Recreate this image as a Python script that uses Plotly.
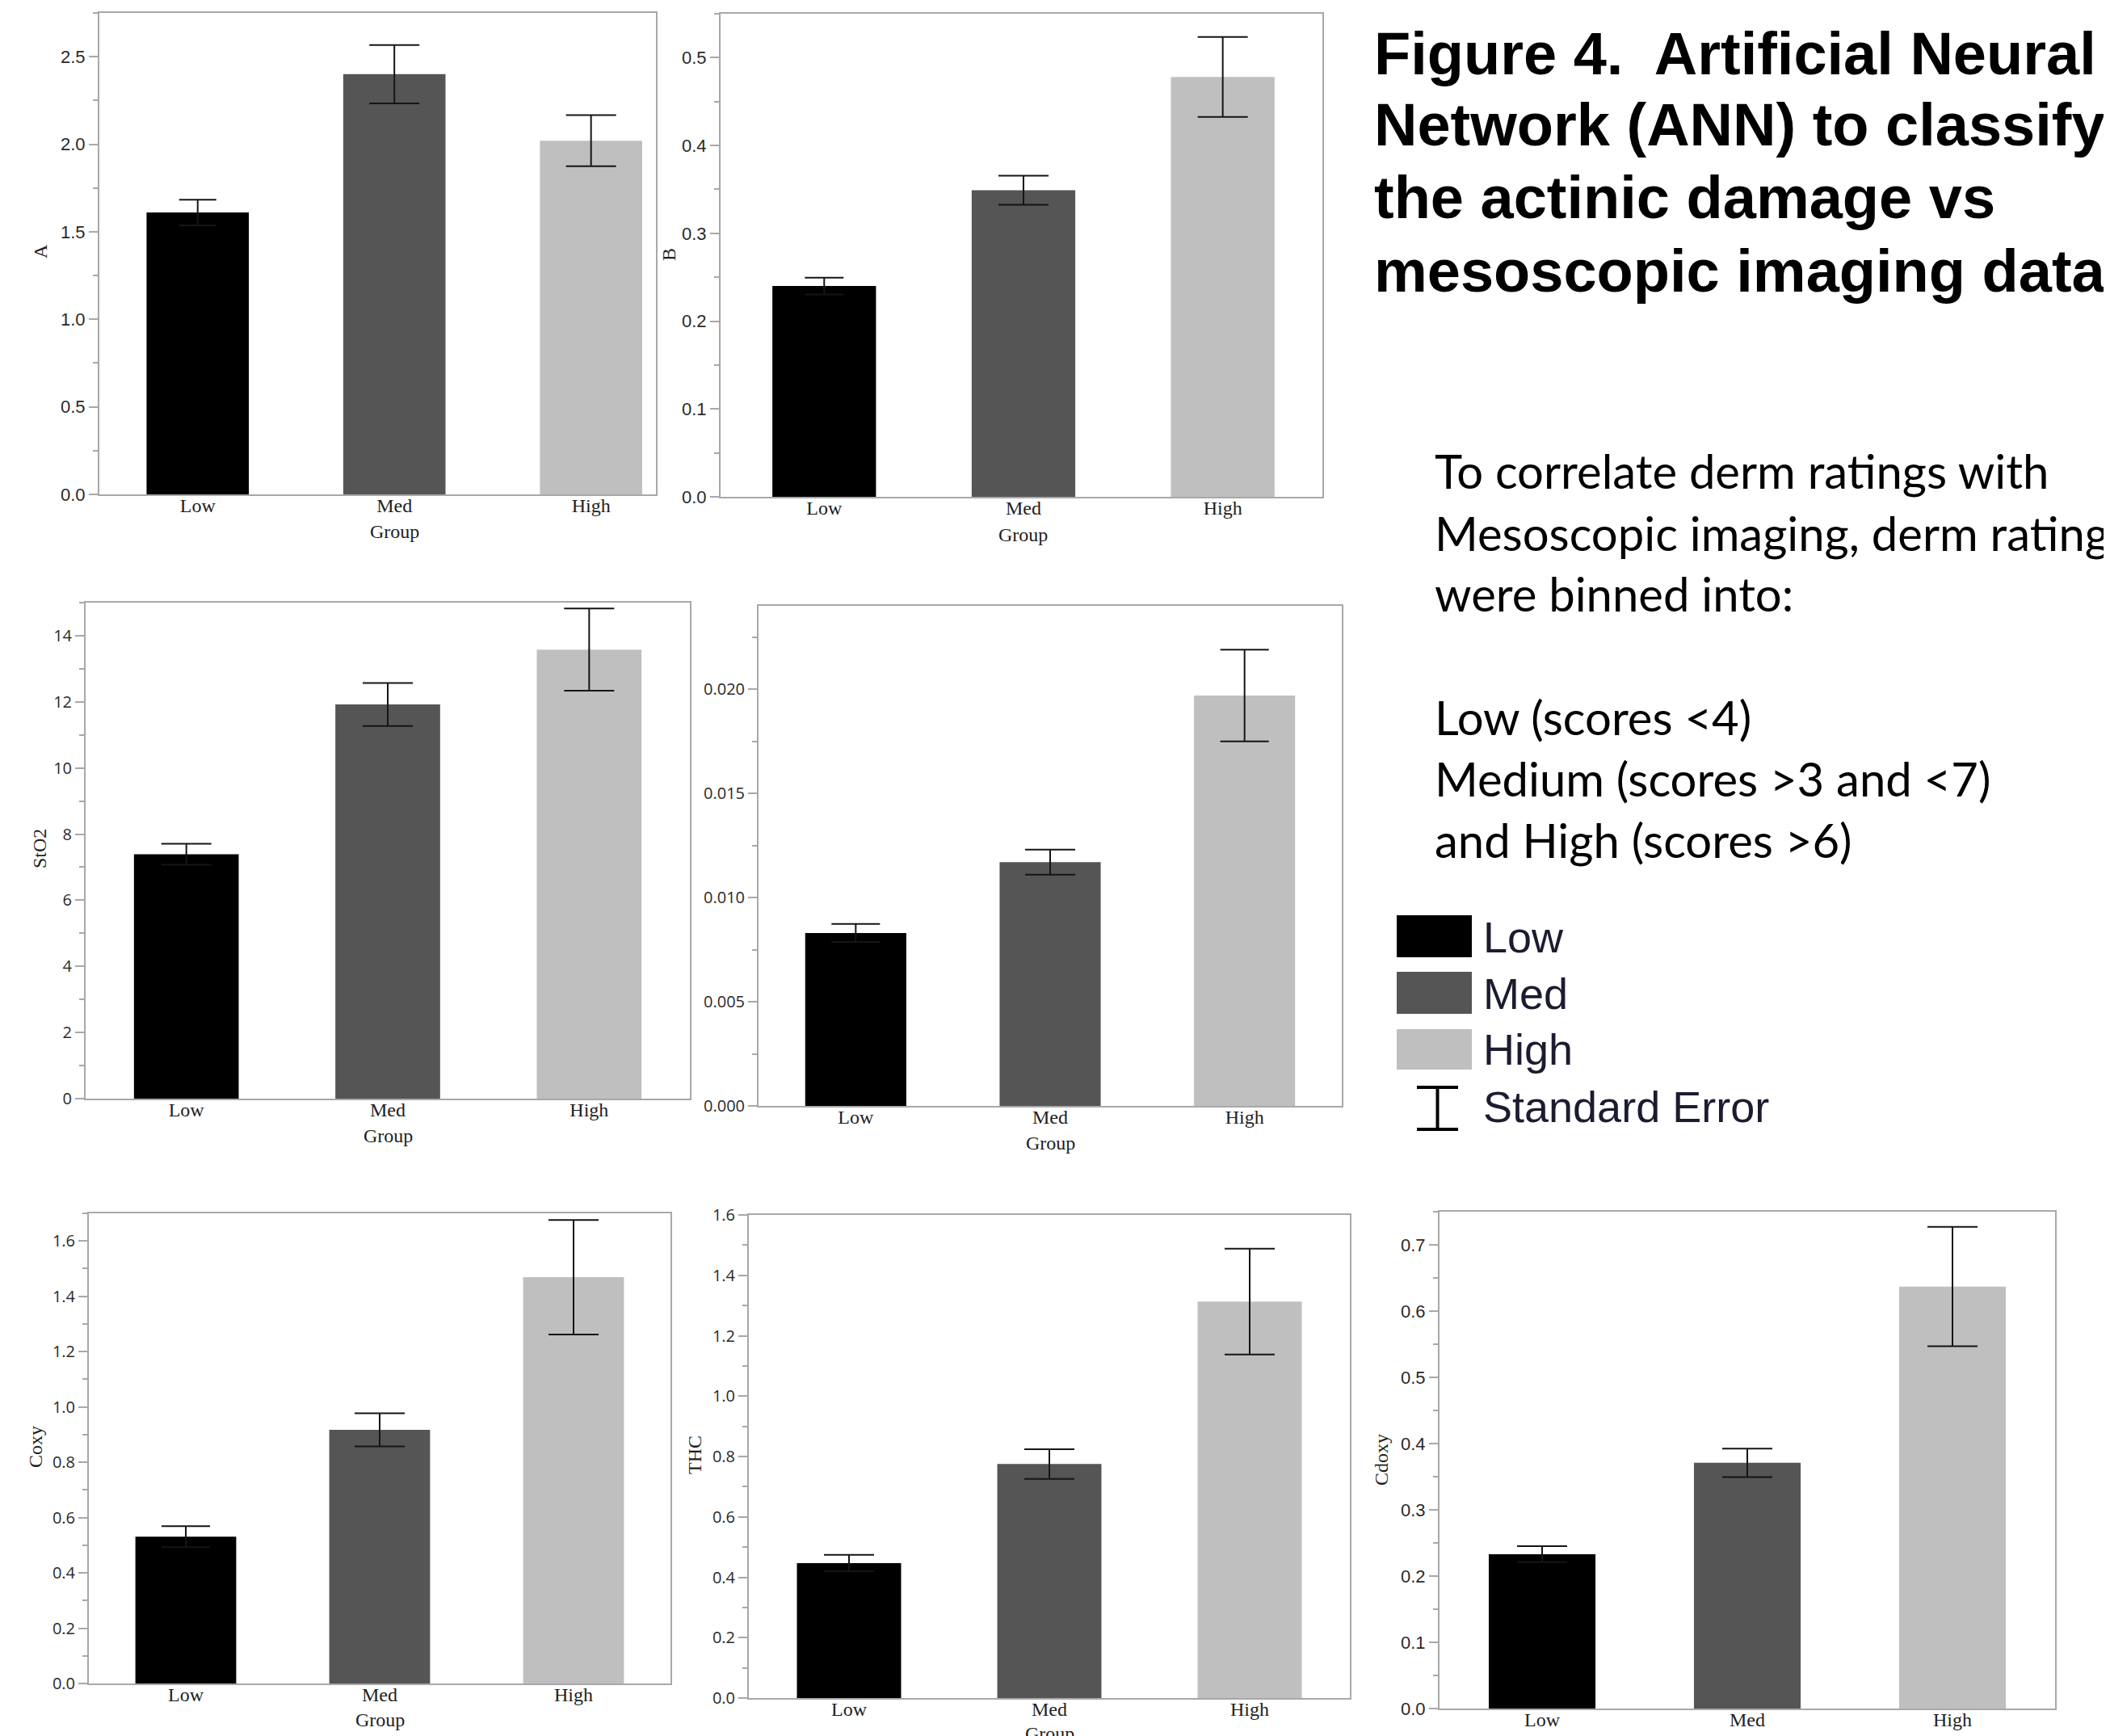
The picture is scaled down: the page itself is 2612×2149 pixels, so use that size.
import plotly.graph_objects as go

# page body adds an 8px margin, so the figure is drawn 8px in from the corner
OFF = 8
W, H = 2612 - OFF, 2149 - OFF


def px(x):
    return (x - OFF) / W


def py(y):
    return 1 - (y - OFF) / H


# ---------------- data ----------------
groups = ["Low", "Med", "High"]

A_mean = [1.61, 2.40, 2.02]
A_se = [0.073, 0.167, 0.146]
B_mean = [0.240, 0.349, 0.478]
B_se = [0.0095, 0.0165, 0.0455]
StO2_mean = [7.39, 11.92, 13.58]
StO2_se = [0.32, 0.65, 1.24]
P4_mean = [0.0083, 0.0117, 0.0197]
P4_se = [0.00043, 0.0006, 0.0022]
Coxy_mean = [0.531, 0.917, 1.469]
Coxy_se = [0.038, 0.060, 0.207]
THC_mean = [0.447, 0.775, 1.313]
THC_se = [0.027, 0.049, 0.175]
Cdoxy_mean = [0.233, 0.371, 0.637]
Cdoxy_se = [0.012, 0.0215, 0.090]

y_titles = ["A", "B", "StO2", "", "Coxy", "THC", "Cdoxy"]
x_title = "Group"

title_lines = [
    "Figure 4.&nbsp; Artificial Neural",
    "Network (ANN) to classify",
    "the actinic damage vs",
    "mesoscopic imaging data",
]
body_lines = [
    "To correlate derm ratings with",
    "Mesoscopic imaging, derm ratings",
    "were binned into:",
    "Low (scores <4)",
    "Medium (scores >3 and <7)",
    "and High (scores >6)",
]
legend_labels = ["Low", "Med", "High", "Standard Error"]

# ---------------- style ----------------
bar_colors = ["#000000", "#555555", "#bfbfbf"]
frame = "#a8a8a8"
narrow_font = "Liberation Sans Narrow, Arial Narrow, Liberation Sans, Arial"
ui_font = "Segoe UI, Open Sans, Noto Sans, sans-serif"
serif = "Liberation Serif, Times New Roman, serif"

panels = [
    dict(mean=A_mean, se=A_se, box=(123, 16, 812, 612), yr=[0, 2.75], dt=0.5, mdt=0.25,
         fmt=".1f", font=narrow_font, fs=22, xr=[-0.5, 2.33], caps=(23, 31, 31), tpos=(50, 311), gy=658),
    dict(mean=B_mean, se=B_se, box=(892, 17, 1637, 615), yr=[0, 0.55], dt=0.1, mdt=0.05,
         fmt=".1f", font=narrow_font, fs=22, xr=[-0.52, 2.5], caps=(24, 31, 31), tpos=(828, 315), gy=662),
    dict(mean=StO2_mean, se=StO2_se, box=(106, 746, 854, 1360), yr=[0, 15], dt=2, mdt=1,
         fmt="d", font=ui_font, fs=20, xr=[-0.5, 2.5], caps=(31, 31, 31), tpos=(49, 1051), gy=1406),
    dict(mean=P4_mean, se=P4_se, box=(939, 750, 1661, 1369), yr=[0, 0.024], dt=0.005, mdt=0.0025,
         fmt=".3f", font=ui_font, fs=20, xr=[-0.5, 2.5], caps=(30, 31, 30), tpos=None, gy=1415),
    dict(mean=Coxy_mean, se=Coxy_se, box=(110, 1502, 830, 2084), yr=[0, 1.7], dt=0.2, mdt=0.1,
         fmt=".1f", font=ui_font, fs=20, xr=[-0.5, 2.5], caps=(30, 31, 31), tpos=(44, 1791), gy=2129),
    dict(mean=THC_mean, se=THC_se, box=(927, 1504, 1671, 2102), yr=[0, 1.6], dt=0.2, mdt=0.1,
         fmt=".1f", font=ui_font, fs=20, xr=[-0.5, 2.5], caps=(31, 31, 31), tpos=(860, 1801), gy=2146),
    dict(mean=Cdoxy_mean, se=Cdoxy_se, box=(1782, 1500, 2544, 2115), yr=[0, 0.75], dt=0.1, mdt=0.05,
         fmt=".1f", font=narrow_font, fs=22, xr=[-0.5, 2.5], caps=(31, 31, 31), tpos=(1710, 1807), gy=None),
]

fig = go.Figure()
layout = dict(
    width=W, height=H, margin=dict(l=0, r=0, t=0, b=0),
    paper_bgcolor="white", plot_bgcolor="white",
    barmode="overlay", showlegend=False,
)
annotations = []
shapes = []

for i, p in enumerate(panels, start=1):
    sx = "" if i == 1 else str(i)
    x0, y0, x1, y1 = p["box"]
    for j, g in enumerate(groups):
        fig.add_trace(go.Bar(
            x=[g], y=[p["mean"][j]], width=0.52,
            marker=dict(color=bar_colors[j], line=dict(width=0)),
            error_y=dict(type="data", array=[p["se"][j]], visible=True,
                         color="#151515", thickness=2, width=p["caps"][j]),
            xaxis="x" + sx, yaxis="y" + sx, showlegend=False,
        ))
    layout["xaxis" + sx] = dict(
        domain=[px(x0), px(x1)], anchor="y" + sx, type="category",
        categoryorder="array", categoryarray=groups, range=p["xr"],
        showline=True, mirror=True, linecolor=frame, linewidth=2,
        ticks="", showgrid=False, zeroline=False, automargin=False,
        ticklabelstandoff=-9,
        tickfont=dict(family=serif, size=24, color="#1e1e1e"),
    )
    layout["yaxis" + sx] = dict(
        domain=[py(y1), py(y0)], anchor="x" + sx, range=p["yr"],
        tick0=0, dtick=p["dt"], tickformat=p["fmt"],
        ticks="outside", ticklen=11, tickwidth=1.5, tickcolor=frame,
        minor=dict(dtick=p["mdt"], tick0=0, ticks="outside", ticklen=6,
                   tickwidth=1.5, tickcolor=frame, showgrid=False),
        showline=True, mirror=True, linecolor=frame, linewidth=2,
        showgrid=False, zeroline=False, automargin=False,
        tickfont=dict(family=p["font"], size=p["fs"], color="#2a2a2a"),
    )
    if p["tpos"] is not None and y_titles[i - 1]:
        tx, ty = p["tpos"]
        annotations.append(dict(
            text=y_titles[i - 1], xref="paper", yref="paper", x=px(tx), y=py(ty),
            xanchor="center", yanchor="middle", textangle=-90, showarrow=False,
            font=dict(family=serif, size=24, color="#1e1e1e"),
        ))
    if p["gy"] is not None:
        annotations.append(dict(
            text=x_title, xref="x" + sx, yref="paper", x=1, y=py(p["gy"]),
            xanchor="center", yanchor="middle", showarrow=False,
            font=dict(family=serif, size=24, color="#1e1e1e"),
        ))

# title block
for line, cy in zip(title_lines, [66, 155, 245, 335]):
    annotations.append(dict(
        text="<b>" + line + "</b>", xref="paper", yref="paper", x=px(1699), y=py(cy),
        xanchor="left", yanchor="middle", showarrow=False,
        font=dict(family="Liberation Sans, Arial, sans-serif", size=74, color="#000000"),
    ))

# body text
for line, cy in zip(body_lines, [582, 659, 734, 887, 963, 1039]):
    annotations.append(dict(
        text=line, xref="paper", yref="paper", x=px(1774), y=py(cy),
        xanchor="left", yanchor="middle", showarrow=False,
        font=dict(family="Lato, Open Sans, sans-serif", size=58, color="#000000"),
    ))

# legend
leg_boxes = [(1133, 1185), (1203, 1255), (1274, 1324)]
for (ya, yb), col in zip(leg_boxes, bar_colors):
    shapes.append(dict(type="rect", xref="paper", yref="paper",
                       x0=px(1729), x1=px(1822), y0=py(yb), y1=py(ya),
                       fillcolor=col, line=dict(width=0)))
se_x0, se_x1, se_xc, se_y0, se_y1 = 1754, 1805, 1779.5, 1346, 1398
for seg in [(se_x0, se_y0, se_x1, se_y0), (se_x0, se_y1, se_x1, se_y1), (se_xc, se_y0, se_xc, se_y1)]:
    shapes.append(dict(type="line", xref="paper", yref="paper",
                       x0=px(seg[0]), y0=py(seg[1]), x1=px(seg[2]), y1=py(seg[3]),
                       line=dict(color="#000000", width=4)))
for lab, cy in zip(legend_labels, [1160, 1230, 1299, 1370]):
    annotations.append(dict(
        text=lab, xref="paper", yref="paper", x=px(1834), y=py(cy),
        xanchor="left", yanchor="middle", showarrow=False,
        font=dict(family="Liberation Sans, Arial, sans-serif", size=54, color="#1c1c30"),
    ))

layout["annotations"] = annotations
layout["shapes"] = shapes
fig.update_layout(**layout)
fig.write_html("out.html")
